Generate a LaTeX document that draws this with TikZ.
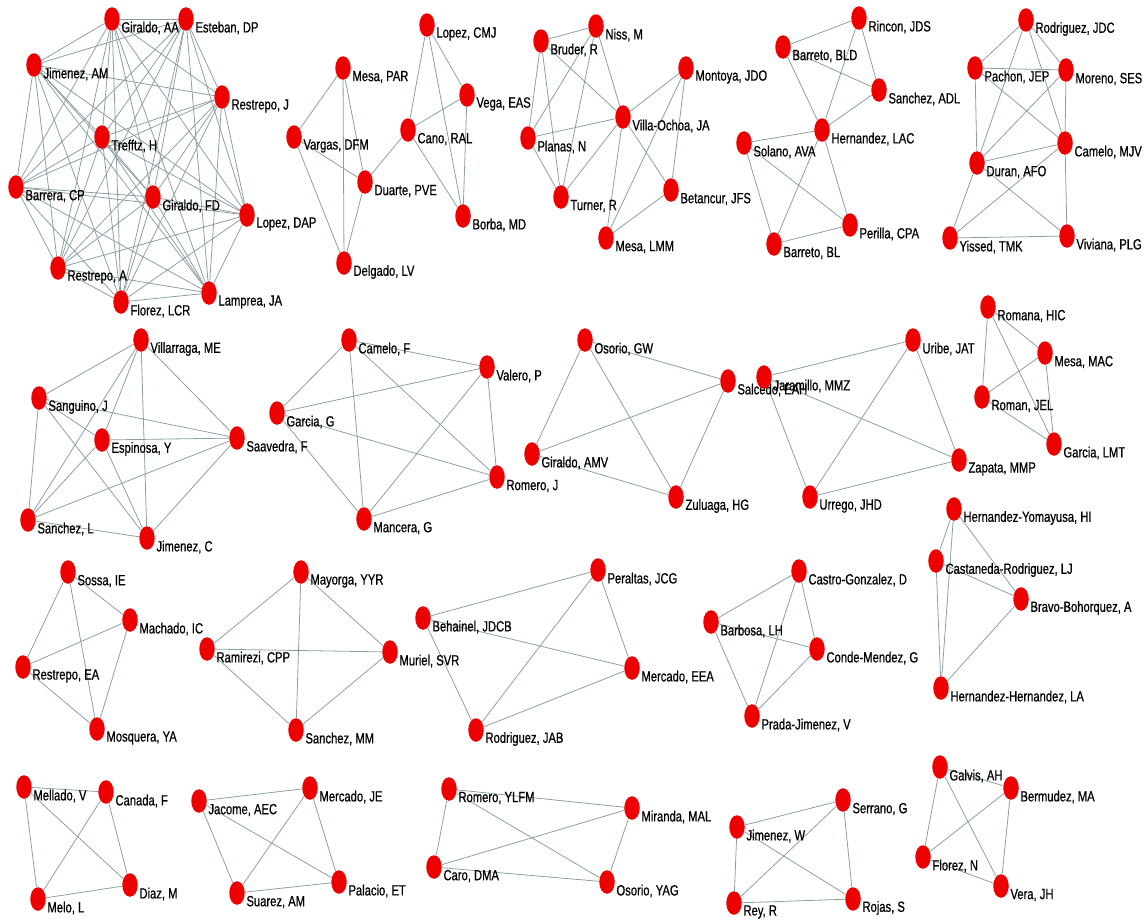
\documentclass[tikz,border=0pt]{standalone}
\usepackage{fontspec}
\setmainfont{Liberation Sans}[FakeStretch=0.76,FakeBold=0.7]
\usepackage{xcolor}
\usepackage{tikz}
\usetikzlibrary{shapes.geometric,backgrounds}
\definecolor{AuthorRed}{RGB}{236,0,0}
\definecolor{LinkGray}{RGB}{140,158,162}

\tikzset{
  author/.style={ellipse, fill=AuthorRed, draw=none, minimum width=0.31cm,
    minimum height=0.47cm, inner sep=0pt},
  lbl/.style={font=\fontsize{8.4}{9}\selectfont, text=black, inner sep=0.6pt,
    yshift=-0.18cm},
  coauth/.style={draw=LinkGray, line width=0.45pt}
}

% every pair of the list gets a link
\newcommand{\cliquelinks}[1]{%
  \foreach \u [count=\i] in {#1}{%
    \foreach \v [count=\j] in {#1}{%
      \ifnum\i<\j \draw[coauth] (\u) -- (\v);\fi
    }}}

\begin{document}
\begin{tikzpicture}[x=0.02cm, y=-0.02cm]
  \useasboundingbox (0,0) rectangle (1147,923);

  % --- grupo 1 (todos con todos)
  \node[author, label={[lbl]0:Giraldo, AA}] (giraldoAA) at (112,19) {};
  \node[author, label={[lbl]0:Esteban, DP}] (estebanDP) at (186,19) {};
  \node[author, label={[lbl]0:Jimenez, AM}] (jimenezAM) at (34,65) {};
  \node[author, label={[lbl]0:Restrepo, J}] (restrepoJ) at (222,97) {};
  \node[author, label={[lbl]0:Trefftz, H}] (trefftzH) at (102,137) {};
  \node[author, label={[lbl]0:Barrera, CP}] (barreraCP) at (16,187) {};
  \node[author, label={[lbl]0:Giraldo, FD}] (giraldoFD) at (153,197) {};
  \node[author, label={[lbl]0:Lopez, DAP}] (lopezDAP) at (247,215) {};
  \node[author, label={[lbl]0:Restrepo, A}] (restrepoA) at (58,268) {};
  \node[author, label={[lbl]0:Florez, LCR}] (florezLCR) at (121,302) {};
  \node[author, label={[lbl]0:Lamprea, JA}] (lampreaJA) at (209,293) {};

  % --- grupo 2
  \node[author, label={[lbl]0:Lopez, CMJ}] (lopezCMJ) at (427,25) {};
  \node[author, label={[lbl]0:Mesa, PAR}] (mesaPAR) at (343,68) {};
  \node[author, label={[lbl]0:Vega, EAS}] (vegaEAS) at (467,95) {};
  \node[author, label={[lbl]0:Vargas, DFM}] (vargasDFM) at (294,137) {};
  \node[author, label={[lbl]0:Cano, RAL}] (canoRAL) at (408,130) {};
  \node[author, label={[lbl]0:Duarte, PVE}] (duartePVE) at (365,182) {};
  \node[author, label={[lbl]0:Borba, MD}] (borbaMD) at (463,216) {};
  \node[author, label={[lbl]0:Delgado, LV}] (delgadoLV) at (344,263) {};

  % --- grupo 3
  \node[author, label={[lbl]0:Bruder, R}] (bruderR) at (541,41) {};
  \node[author, label={[lbl]0:Niss, M}] (nissM) at (596,26) {};
  \node[author, label={[lbl]0:Montoya, JDO}] (montoyaJDO) at (686,68) {};
  \node[author, label={[lbl]0:Villa-Ochoa, JA}] (villaJA) at (623,117) {};
  \node[author, label={[lbl]0:Planas, N}] (planasN) at (528,138) {};
  \node[author, label={[lbl]0:Turner, R}] (turnerR) at (561,197) {};
  \node[author, label={[lbl]0:Betancur, JFS}] (betancurJFS) at (671,190) {};
  \node[author, label={[lbl]0:Mesa, LMM}] (mesaLMM) at (606,238) {};

  % --- grupo 4
  \node[author, label={[lbl]0:Rincon, JDS}] (rinconJDS) at (859,18) {};
  \node[author, label={[lbl]0:Barreto, BLD}] (barretoBLD) at (783,47) {};
  \node[author, label={[lbl]0:Sanchez, ADL}] (sanchezADL) at (879,90) {};
  \node[author, label={[lbl]0:Hernandez, LAC}] (hernandezLAC) at (822,130) {};
  \node[author, label={[lbl]0:Solano, AVA}] (solanoAVA) at (744,143) {};
  \node[author, label={[lbl]0:Perilla, CPA}] (perillaCPA) at (850,225) {};
  \node[author, label={[lbl]0:Barreto, BL}] (barretoBL) at (774,244) {};

  % --- grupo 5
  \node[author, label={[lbl]0:Rodriguez, JDC}] (rodriguezJDC) at (1026,20) {};
  \node[author, label={[lbl]0:Pachon, JEP}] (pachonJEP) at (975,68) {};
  \node[author, label={[lbl]0:Moreno, SES}] (morenoSES) at (1066,70) {};
  \node[author, label={[lbl]0:Camelo, MJV}] (cameloMJV) at (1065,143) {};
  \node[author, label={[lbl]0:Duran, AFO}] (duranAFO) at (977,163) {};
  \node[author, label={[lbl]0:Yissed, TMK}] (yissedTMK) at (950,238) {};
  \node[author, label={[lbl]0:Viviana, PLG}] (vivianaPLG) at (1067,236) {};

  % --- fila 2
  \node[author, label={[lbl]0:Villarraga, ME}] (villarragaME) at (141,340) {};
  \node[author, label={[lbl]0:Sanguino, J}] (sanguinoJ) at (39,398) {};
  \node[author, label={[lbl]0:Espinosa, Y}] (espinosaY) at (102,440) {};
  \node[author, label={[lbl]0:Saavedra, F}] (saavedraF) at (237,438) {};
  \node[author, label={[lbl]0:Sanchez, L}] (sanchezL) at (28,520) {};
  \node[author, label={[lbl]0:Jimenez, C}] (jimenezC) at (147,538) {};

  \node[author, label={[lbl]0:Camelo, F}] (cameloF) at (349,340) {};
  \node[author, label={[lbl]0:Garcia, G}] (garciaG) at (277,413) {};
  \node[author, label={[lbl]0:Valero, P}] (valeroP) at (487,367) {};
  \node[author, label={[lbl]0:Mancera, G}] (manceraG) at (364,519) {};
  \node[author, label={[lbl]0:Romero, J}] (romeroJ) at (497,477) {};

  \node[author, label={[lbl]0:Osorio, GW}] (osorioGW) at (585,340) {};
  \node[author, label={[lbl]0:Salcedo, EAH}] (salcedoEAH) at (728,381) {};
  \node[author, label={[lbl]0:Giraldo, AMV}] (giraldoAMV) at (532,454) {};
  \node[author, label={[lbl]0:Zuluaga, HG}] (zuluagaHG) at (676,497) {};

  \node[author, label={[lbl]0:Jaramillo, MMZ}] (jaramilloMMZ) at (764,377) {};
  \node[author, label={[lbl]0:Uribe, JAT}] (uribeJAT) at (913,340) {};
  \node[author, label={[lbl]0:Urrego, JHD}] (urregoJHD) at (810,497) {};
  \node[author, label={[lbl]0:Zapata, MMP}] (zapataMMP) at (959,460) {};

  \node[author, label={[lbl]0:Romana, HIC}] (romanaHIC) at (988,307) {};
  \node[author, label={[lbl]0:Mesa, MAC}] (mesaMAC) at (1045,353) {};
  \node[author, label={[lbl]0:Roman, JEL}] (romanJEL) at (982,397) {};
  \node[author, label={[lbl]0:Garcia, LMT}] (garciaLMT) at (1054,444) {};

  \node[author, label={[lbl]0:Hernandez-Yomayusa, HI}] (hyomayusaHI) at (954,509) {};
  \node[author, label={[lbl]0:Castaneda-Rodriguez, LJ}] (castanedaLJ) at (936,561) {};
  \node[author, label={[lbl]0:Bravo-Bohorquez, A}] (bravoA) at (1021,599) {};
  \node[author, label={[lbl]0:Hernandez-Hernandez, LA}] (hhernandezLA) at (941,688) {};

  % --- fila 3
  \node[author, label={[lbl]0:Sossa, IE}] (sossaIE) at (68,572) {};
  \node[author, label={[lbl]0:Machado, IC}] (machadoIC) at (130,620) {};
  \node[author, label={[lbl]0:Restrepo, EA}] (restrepoEA) at (23,667) {};
  \node[author, label={[lbl]0:Mosquera, YA}] (mosqueraYA) at (97,729) {};

  \node[author, label={[lbl]0:Mayorga, YYR}] (mayorgaYYR) at (301,572) {};
  \node[author, label={[lbl]0:Ramirezi, CPP}] (ramireziCPP) at (207,649) {};
  \node[author, label={[lbl]0:Muriel, SVR}] (murielSVR) at (390,652) {};
  \node[author, label={[lbl]0:Sanchez, MM}] (sanchezMM) at (296,730) {};

  \node[author, label={[lbl]0:Behainel, JDCB}] (behainelJDCB) at (423,618) {};
  \node[author, label={[lbl]0:Peraltas, JCG}] (peraltasJCG) at (598,570) {};
  \node[author, label={[lbl]0:Mercado, EEA}] (mercadoEEA) at (632,668) {};
  \node[author, label={[lbl]0:Rodriguez, JAB}] (rodriguezJAB) at (476,730) {};

  \node[author, label={[lbl]0:Castro-Gonzalez, D}] (castroD) at (799,571) {};
  \node[author, label={[lbl]0:Barbosa, LH}] (barbosaLH) at (711,622) {};
  \node[author, label={[lbl]0:Conde-Mendez, G}] (condeG) at (817,649) {};
  \node[author, label={[lbl]0:Prada-Jimenez, V}] (pradaV) at (752,716) {};

  % --- fila 4
  \node[author, label={[lbl]0:Mellado, V}] (melladoV) at (24,787) {};
  \node[author, label={[lbl]0:Canada, F}] (canadaF) at (106,792) {};
  \node[author, label={[lbl]0:Melo, L}] (meloL) at (38,899) {};
  \node[author, label={[lbl]0:Diaz, M}] (diazM) at (130,885) {};

  \node[author, label={[lbl]0:Jacome, AEC}] (jacomeAEC) at (199,801) {};
  \node[author, label={[lbl]0:Mercado, JE}] (mercadoJE) at (310,788) {};
  \node[author, label={[lbl]0:Suarez, AM}] (suarezAM) at (237,893) {};
  \node[author, label={[lbl]0:Palacio, ET}] (palacioET) at (339,882) {};

  \node[author, label={[lbl]0:Romero, YLFM}] (romeroYLFM) at (449,789) {};
  \node[author, label={[lbl]0:Caro, DMA}] (caroDMA) at (434,867) {};
  \node[author, label={[lbl]0:Miranda, MAL}] (mirandaMAL) at (632,808) {};
  \node[author, label={[lbl]0:Osorio, YAG}] (osorioYAG) at (607,882) {};

  \node[author, label={[lbl]0:Jimenez, W}] (jimenezW) at (737,827) {};
  \node[author, label={[lbl]0:Serrano, G}] (serranoG) at (843,800) {};
  \node[author, label={[lbl]0:Rey, R}] (reyR) at (734,903) {};
  \node[author, label={[lbl]0:Rojas, S}] (rojasS) at (853,899) {};

  \node[author, label={[lbl]0:Galvis, AH}] (galvisAH) at (940,767) {};
  \node[author, label={[lbl]0:Bermudez, MA}] (bermudezMA) at (1011,788) {};
  \node[author, label={[lbl]0:Florez, N}] (florezN) at (923,857) {};
  \node[author, label={[lbl]0:Vera, JH}] (veraJH) at (1001,886) {};

  % --- enlaces de coautoria
  \begin{scope}[on background layer]
    \cliquelinks{giraldoAA,estebanDP,jimenezAM,restrepoJ,trefftzH,barreraCP,giraldoFD,lopezDAP,restrepoA,florezLCR,lampreaJA}

    \draw[coauth] (mesaPAR) -- (vargasDFM) (mesaPAR) -- (duartePVE) (mesaPAR) -- (delgadoLV)
      (vargasDFM) -- (duartePVE) (vargasDFM) -- (delgadoLV) (duartePVE) -- (delgadoLV)
      (duartePVE) -- (canoRAL) (canoRAL) -- (lopezCMJ) (canoRAL) -- (vegaEAS) (canoRAL) -- (borbaMD)
      (lopezCMJ) -- (vegaEAS) (lopezCMJ) -- (borbaMD) (vegaEAS) -- (borbaMD);

    \draw[coauth] (bruderR) -- (nissM) (bruderR) -- (planasN) (bruderR) -- (turnerR) (bruderR) -- (villaJA)
      (nissM) -- (planasN) (nissM) -- (turnerR) (nissM) -- (villaJA)
      (planasN) -- (villaJA) (planasN) -- (turnerR) (turnerR) -- (villaJA)
      (villaJA) -- (montoyaJDO) (villaJA) -- (mesaLMM) (villaJA) -- (betancurJFS)
      (montoyaJDO) -- (mesaLMM) (montoyaJDO) -- (betancurJFS) (betancurJFS) -- (mesaLMM);

    \draw[coauth] (barretoBLD) -- (rinconJDS) (rinconJDS) -- (sanchezADL) (rinconJDS) -- (hernandezLAC)
      (barretoBLD) -- (sanchezADL) (barretoBLD) -- (hernandezLAC) (sanchezADL) -- (hernandezLAC)
      (hernandezLAC) -- (solanoAVA) (hernandezLAC) -- (perillaCPA) (hernandezLAC) -- (barretoBL)
      (solanoAVA) -- (barretoBL) (solanoAVA) -- (perillaCPA) (barretoBL) -- (perillaCPA);

    \draw[coauth] (rodriguezJDC) -- (pachonJEP) (rodriguezJDC) -- (morenoSES) (rodriguezJDC) -- (duranAFO)
      (rodriguezJDC) -- (cameloMJV) (pachonJEP) -- (morenoSES) (pachonJEP) -- (duranAFO)
      (pachonJEP) -- (cameloMJV) (morenoSES) -- (duranAFO) (morenoSES) -- (cameloMJV)
      (duranAFO) -- (cameloMJV) (duranAFO) -- (yissedTMK) (duranAFO) -- (vivianaPLG)
      (cameloMJV) -- (yissedTMK) (cameloMJV) -- (vivianaPLG) (yissedTMK) -- (vivianaPLG);

    \cliquelinks{villarragaME,sanguinoJ,espinosaY,saavedraF,sanchezL,jimenezC}
    \cliquelinks{cameloF,garciaG,valeroP,manceraG,romeroJ}
    \cliquelinks{osorioGW,salcedoEAH,giraldoAMV,zuluagaHG}
    \cliquelinks{jaramilloMMZ,uribeJAT,urregoJHD,zapataMMP}
    \cliquelinks{romanaHIC,mesaMAC,romanJEL,garciaLMT}
    \cliquelinks{hyomayusaHI,castanedaLJ,bravoA,hhernandezLA}
    \cliquelinks{sossaIE,machadoIC,restrepoEA,mosqueraYA}
    \cliquelinks{mayorgaYYR,ramireziCPP,murielSVR,sanchezMM}
    \cliquelinks{behainelJDCB,peraltasJCG,mercadoEEA,rodriguezJAB}
    \cliquelinks{castroD,barbosaLH,condeG,pradaV}
    \cliquelinks{melladoV,canadaF,meloL,diazM}
    \cliquelinks{jacomeAEC,mercadoJE,suarezAM,palacioET}
    \cliquelinks{romeroYLFM,caroDMA,mirandaMAL,osorioYAG}
    \cliquelinks{jimenezW,serranoG,reyR,rojasS}
    \cliquelinks{galvisAH,bermudezMA,florezN,veraJH}
  \end{scope}
\end{tikzpicture}
\end{document}
